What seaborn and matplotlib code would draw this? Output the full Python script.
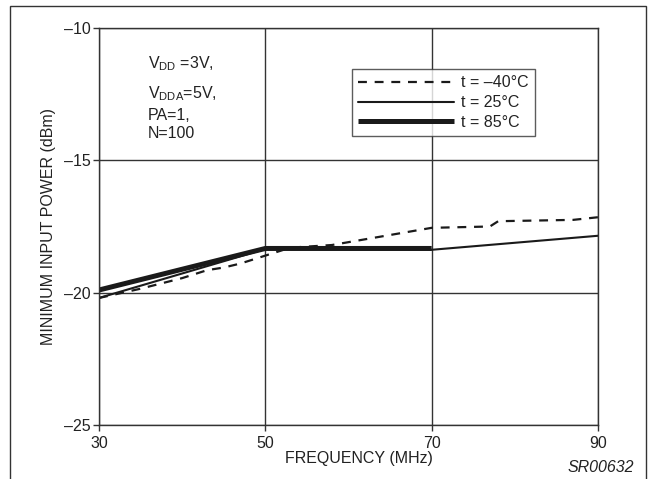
import matplotlib
matplotlib.use("Agg")
import matplotlib.pyplot as plt
import seaborn as sns
import pandas as pd
from matplotlib.patches import Rectangle

sns.set_theme(style="white")
plt.rcParams['font.family'] = ['Liberation Sans', 'DejaVu Sans']
plt.rcParams['mathtext.fontset'] = 'custom'
plt.rcParams['mathtext.rm'] = 'Liberation Sans'

# Data
freq_m40 = [30, 35, 40, 43, 45, 47, 50, 53, 58, 70, 77, 78, 87, 90]
pow_m40 = [-20.2, -19.85, -19.45, -19.15, -19.05, -18.9, -18.6, -18.3, -18.2, -17.55, -17.5, -17.3, -17.25, -17.15]
freq_25 = [30, 50, 70, 90]
pow_25 = [-20.2, -18.35, -18.38, -17.85]
freq_85 = [30, 50, 70]
pow_85 = [-19.9, -18.33, -18.33]
labels = ["t = \u201340\u00b0C", "t = 25\u00b0C", "t = 85\u00b0C"]
xticks = [30, 50, 70, 90]
yticks = [-25, -20, -15, -10]
ytick_labels = ["\u201325", "\u201320", "\u201315", "\u201310"]

W, H = 654, 479
FS = 11.5
fig = plt.figure(figsize=(W / 100, H / 100), dpi=100)
ax = fig.add_axes([99 / W, 1 - 425 / H, (598 - 99) / W, (425 - 28) / H])

# outer frame
fig.patches.append(Rectangle((10 / W, -0.05), (646 - 10) / W, 1 - 6 / H + 0.05,
                             transform=fig.transFigure, fill=False,
                             edgecolor='#333333', linewidth=1.0))

df40 = pd.DataFrame({"f": freq_m40, "p": pow_m40})
df25 = pd.DataFrame({"f": freq_25, "p": pow_25})
df85 = pd.DataFrame({"f": freq_85, "p": pow_85})

sns.lineplot(data=df40, x="f", y="p", ax=ax, color='#1a1a1a', linewidth=1.6,
             linestyle=(0, (4, 3.5)), label=labels[0], sort=False, estimator=None)
sns.lineplot(data=df25, x="f", y="p", ax=ax, color='#1a1a1a', linewidth=1.5,
             label=labels[1], sort=False, estimator=None)
sns.lineplot(data=df85, x="f", y="p", ax=ax, color='#1a1a1a', linewidth=3.6,
             label=labels[2], sort=False, estimator=None, solid_capstyle='butt')

ax.set_xlim(30, 90)
ax.set_ylim(-25, -10)
ax.set_xticks(xticks)
ax.set_yticks(yticks)
ax.set_yticklabels(ytick_labels)
ax.grid(True, color='#333333', linewidth=1.0)
ax.set_axisbelow(True)
for s in ax.spines.values():
    s.set_color('#333333')
    s.set_linewidth(1.0)
ax.tick_params(axis='both', direction='out', length=4, width=1, color='#333333',
               labelsize=FS, labelcolor='#222222', left=True, bottom=True)
ax.tick_params(axis='x', pad=4)
ax.tick_params(axis='y', pad=2)

ax.set_xlabel("FREQUENCY (MHz)", fontsize=FS, color='#222222')
ax.xaxis.set_label_coords(0.52, -0.066)
ax.set_ylabel("MINIMUM INPUT POWER (dBm)", fontsize=FS, color='#222222', labelpad=6)

leg = ax.legend(loc='upper left', bbox_to_anchor=((352 - 99) / (598 - 99), (425 - 69) / (425 - 28)),
                frameon=True, fancybox=False, fontsize=FS, handlelength=6.0,
                handletextpad=0.45, borderpad=0.4, labelspacing=0.3,
                borderaxespad=0)
leg.get_frame().set_edgecolor('#333333')
leg.get_frame().set_linewidth(1.0)
for t in leg.get_texts():
    t.set_color('#222222')

tx = 148 / W
fig.text(tx, 1 - 64 / H, r"V$_{\mathregular{DD}}$ =3V,", fontsize=FS, color='#222222', va='center')
fig.text(tx, 1 - 94 / H, r"V$_{\mathregular{DDA}}$=5V,", fontsize=FS, color='#222222', va='center')
fig.text(tx, 1 - 115 / H, "PA=1,", fontsize=FS, color='#222222', va='center')
fig.text(tx, 1 - 134 / H, "N=100", fontsize=FS, color='#222222', va='center')

fig.text(634 / W, 1 - 467 / H, "SR00632", fontsize=FS, style='italic', color='#222222',
         ha='right', va='center')

fig.savefig("out.png", dpi=100)
